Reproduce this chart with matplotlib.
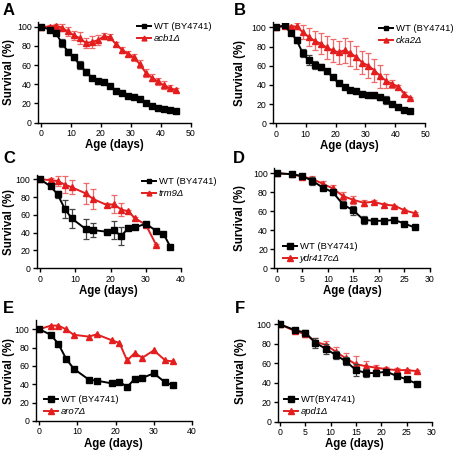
import matplotlib
matplotlib.use("Agg")
import matplotlib.pyplot as plt
from matplotlib.lines import Line2D

plt.rcParams['font.family'] = ['Liberation Sans', 'DejaVu Sans']

RED = '#e41e1e'
ERED = '#ee6a6a'
EBLK = '#444444'

# ---- Panel A ----
a_x = [0, 3, 5, 7, 9, 11, 13, 15, 17, 19, 21, 23, 25, 27, 29, 31, 33, 35, 37, 39, 41, 43, 45]
a_wt = [100, 97, 93, 83, 74, 68, 60, 53, 47, 43, 42, 38, 33, 31, 28, 27, 25, 20, 17, 15, 14, 13, 12]
a_wt_err = [0, 1, 2, 4, 3, 3, 4, 3, 2, 3, 1, 1, 1, 1, 1, 1, 1, 1, 1, 1, 1, 1, 1]
a_mut = [100, 100, 101, 99, 95, 91, 88, 83, 84, 86, 90, 89, 82, 76, 72, 68, 61, 52, 47, 43, 39, 36, 34]
a_mut_err = [0, 2, 2, 4, 5, 5, 6, 5, 6, 5, 3, 3, 2, 3, 3, 4, 4, 4, 4, 4, 4, 3, 2]

# ---- Panel B ----
b_x = [0, 3, 5, 7, 9, 11, 13, 15, 17, 19, 21, 23, 25, 27, 29, 31, 33, 35, 37, 39, 41, 43, 45]
b_wt = [100, 102, 94, 87, 73, 66, 61, 59, 55, 48, 42, 38, 35, 34, 31, 30, 29, 27, 24, 20, 17, 14, 13]
b_wt_err = [0, 1, 2, 3, 4, 5, 4, 3, 2, 1, 1, 1, 1, 1, 1, 1, 3, 3, 4, 2, 1, 1, 1]
b_mut = [100, 101, 100, 101, 95, 90, 86, 83, 79, 76, 74, 76, 73, 69, 63, 60, 55, 49, 44, 41, 38, 31, 26]
b_mut_err = [0, 1, 2, 3, 7, 9, 10, 11, 12, 12, 12, 13, 13, 12, 12, 13, 12, 12, 7, 4, 2, 2, 1]

# ---- Panel C ----
c_wt_x = [0, 3, 5, 7, 9, 13, 15, 19, 21, 23, 25, 27, 30, 33, 35, 37]
c_wt = [100, 92, 83, 67, 56, 44, 43, 41, 43, 36, 45, 46, 50, 42, 39, 24]
c_wt_err = [0, 2, 4, 10, 11, 11, 8, 2, 10, 10, 2, 2, 2, 2, 2, 2]
c_mut_x = [0, 3, 5, 7, 9, 13, 15, 19, 21, 23, 25, 27, 30, 33]
c_mut = [100, 99, 98, 94, 91, 84, 78, 71, 72, 66, 64, 56, 49, 26]
c_mut_err = [0, 2, 6, 10, 8, 12, 11, 2, 10, 7, 2, 2, 2, 1]

# ---- Panel D ----
d_x = [0, 3, 5, 7, 9, 11, 13, 15, 17, 19, 21, 23, 25, 27]
d_wt = [100, 99, 97, 92, 85, 80, 67, 61, 51, 50, 50, 51, 47, 43]
d_wt_err = [0, 1, 2, 4, 3, 3, 4, 5, 4, 2, 2, 2, 2, 1]
d_mut = [100, 99, 96.5, 94, 89, 84, 76, 72, 69, 70, 67, 66, 61, 58]
d_mut_err = [0, 1, 2, 3, 3, 4, 4, 4, 3, 2, 2, 1, 1, 1]

# ---- Panel E ----
e_x = [0, 3, 5, 7, 9, 13, 15, 19, 21, 23, 25, 27, 30, 33, 35]
e_wt = [100, 94, 84, 68, 57, 45, 44, 41, 43, 37, 46, 47, 52, 42, 39]
e_mut = [100, 104, 104, 100, 94, 92, 94.5, 88, 85, 66, 74, 69, 77, 66, 65]

# ---- Panel F ----
f_x = [0, 3, 5, 7, 9, 11, 13, 15, 17, 19, 21, 23, 25, 27]
f_wt = [100, 94, 91.5, 81, 75, 68.5, 62, 53, 50, 50, 51.5, 47, 43.5, 39]
f_wt_err = [0, 2, 3, 5, 5, 4, 4, 6, 4, 2, 2, 2, 1, 1]
f_mut = [100, 93, 90, 82, 79, 72, 65, 59, 57, 55.5, 54, 53, 53, 52]
f_mut_err = [0, 2, 3, 4, 4, 5, 6, 8, 5, 3, 2, 2, 1, 1]

W, H = 462, 450
fig = plt.figure(figsize=(W / 100, H / 100), dpi=100)


def px_axes(left, right, bottom, top):
    return fig.add_axes([left / W, 1 - bottom / H, (right - left) / W, (bottom - top) / H])


def style(ax, xlim, xticks, ylim, ylab_x):
    ax.set_xlim(*xlim)
    ax.set_ylim(*ylim)
    ax.set_xticks(xticks)
    ax.set_yticks([0, 20, 40, 60, 80, 100])
    for s in ['top', 'right']:
        ax.spines[s].set_visible(False)
    for s in ['left', 'bottom']:
        ax.spines[s].set_linewidth(1.0)
    ax.tick_params(direction='out', length=3, width=1.0, labelsize=6.3, pad=1.5)
    ax.set_xlabel('Age (days)', fontsize=8.3, fontweight='bold', labelpad=1)
    ax.set_ylabel('Survival (%)', fontsize=8.3, fontweight='bold')
    ax.yaxis.set_label_coords(ylab_x / W, 0.5,
                              transform=matplotlib.transforms.blended_transform_factory(
                                  fig.transFigure, ax.transAxes))


def draw(ax, x1, y1, e1, x2, y2, e2):
    kw = dict(lw=1.4, capsize=2.5, elinewidth=0.9, capthick=0.9)
    if e1 is None:
        ax.plot(x1, y1, color='black', marker='s', ms=4.5, lw=1.4, zorder=3)
        ax.plot(x2, y2, color=RED, marker='^', ms=5, lw=1.4, zorder=2)
    else:
        ax.errorbar(x2, y2, yerr=e2, color=RED, ecolor=ERED, marker='^', ms=5, zorder=2, **kw)
        ax.errorbar(x1, y1, yerr=e1, color='black', ecolor=EBLK, marker='s', ms=4.5, zorder=3, **kw)


def legend(ax, xpx, ypx, labels, ms_sq, ms_tr):
    h = [Line2D([], [], color='black', marker='s', ms=ms_sq, lw=1.4),
         Line2D([], [], color=RED, marker='^', ms=ms_tr, lw=1.4)]
    leg = ax.legend(h, labels, loc='upper left', bbox_to_anchor=(xpx / W, 1 - ypx / H),
                    bbox_transform=fig.transFigure, frameon=False, fontsize=6.8,
                    handlelength=1.5, handletextpad=0.3, borderpad=0, borderaxespad=0,
                    labelspacing=0.35)
    leg.get_texts()[1].set_fontstyle('italic')


# A
axA = px_axes(38, 190.7, 122.7, 21.9)
draw(axA, a_x, a_wt, a_wt_err, a_x, a_mut, a_mut_err)
style(axA, (-1, 50), [0, 10, 20, 30, 40, 50], (0, 105), 15)
legend(axA, 137, 22, ['WT (BY4741)', 'acb1Δ'], 3, 3.5)

# B
axB = px_axes(272.7, 425.3, 123.3, 22.5)
draw(axB, b_x, b_wt, b_wt_err, b_x, b_mut, b_mut_err)
style(axB, (-1, 50), [0, 10, 20, 30, 40, 50], (0, 105), 246)
legend(axB, 379, 24, ['WT (BY4741)', 'cka2Δ'], 3, 3.5)

# C
axC = px_axes(36.5, 181, 268.3, 174.8)
draw(axC, c_wt_x, c_wt, c_wt_err, c_mut_x, c_mut, c_mut_err)
style(axC, (-1, 40), [0, 10, 20, 30, 40], (0, 105), 15)
legend(axC, 142, 177, ['WT (BY4741)', 'trm9Δ'], 3, 3.5)

# D
axD = px_axes(274.1, 430, 268.3, 168.5)
draw(axD, d_x, d_wt, d_wt_err, d_x, d_mut, d_mut_err)
style(axD, (-0.5, 30), [0, 5, 10, 15, 20, 25, 30], (0, 105), 246)
legend(axD, 283, 242, ['WT (BY4741)', 'ydr417cΔ'], 4.5, 5)

# E
axE = px_axes(35.5, 192, 421, 320.1)
draw(axE, e_x, e_wt, None, e_x, e_mut, None)
style(axE, (-1, 40), [0, 10, 20, 30, 40], (0, 110), 15)
legend(axE, 44, 395, ['WT (BY4741)', 'aro7Δ'], 4.5, 5)

# F
axF = px_axes(277.5, 432, 421.7, 319.5)
draw(axF, f_x, f_wt, f_wt_err, f_x, f_mut, f_mut_err)
style(axF, (-0.5, 30), [0, 5, 10, 15, 20, 25, 30], (0, 105), 247)
legend(axF, 284, 395, ['WT(BY4741)', 'apd1Δ'], 4.5, 5)

# panel letters
for letter, xp, yp in [('A', 3, 3), ('B', 234, 3), ('C', 3, 151), ('D', 233, 151),
                       ('E', 3, 301), ('F', 235, 301)]:
    fig.text(xp / W, 1 - yp / H, letter, fontsize=12, fontweight='bold', va='top', ha='left')

fig.savefig('out.png', dpi=100)
